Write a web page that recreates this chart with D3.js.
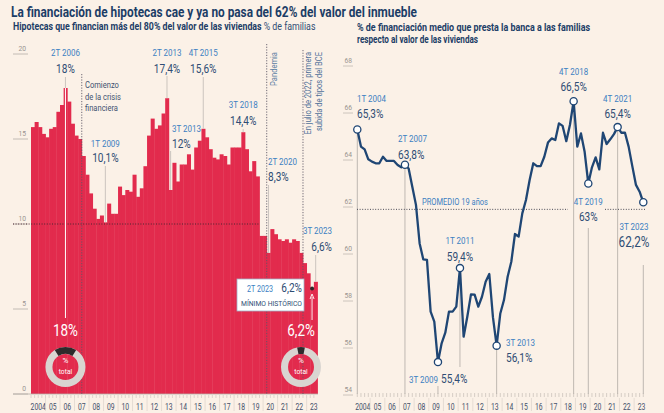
<!DOCTYPE html>
<html>
<head>
<meta charset="utf-8">
<script src="https://cdn.jsdelivr.net/npm/d3@7"></script>
<style>
  body { margin: 0; background: #fbf1e7; }
  svg { display: block; font-family: "Roboto", "Liberation Sans", sans-serif; }
</style>
</head>
<body>
<svg id="chart" width="664" height="413"></svg>
<script>
/* DATA */
var yearLabels = ['2004','05','06','07','08','09','10','11','12','13','14','15','16','17','18','19','20','21','22','23'];
var quarters = [];
yearLabels.forEach(function(y, i){
  for (var q = 1; q <= 4; q++) {
    if (i === 19 && q === 4) break;
    quarters.push(q + 'T ' + (2004 + i));
  }
});

// % de familias con hipoteca > 80% del valor
var familias = [
  15.7, 16.0, 15.7, 15.3,
  15.1, 15.6, 15.7, 16.6,
  17.0, 18.0, 17.2, 15.9,
  15.2, 15.0, 14.0, 12.9,
  11.8, 10.9, 10.3, 10.5,
  10.1, 11.2, 10.6, 10.6,
  12.2, 11.7, 12.0, 11.9,
  12.9, 11.6, 12.1, 13.4,
  15.2, 16.2, 15.6, 15.8,
  16.5, 17.4, 12.0, 13.6,
  12.5, 13.5, 13.5, 14.1,
  13.2, 14.5, 14.9, 15.6,
  15.1, 14.4, 13.9, 13.8,
  14.1, 14.0, 13.5, 14.5,
  14.5, 14.5, 15.4, 14.4,
  13.1, 13.7, 12.8, 9.3,
  9.3, 8.3, 9.7, 9.4,
  9.1, 9.0, 9.1, 8.9,
  9.1, 9.0, 8.3, 7.7,
  7.1, 6.2, 6.6
];

// % de financiacion medio
var financiacion = [
  65.3, 64.57, 64.45, 64.03,
  63.93, 63.86, 63.86, 64.14,
  63.96, 63.96, 63.96, 63.79,
  63.69, 63.8, 63.64, 62.86,
  62.09, 60.45, 59.77, 59.75,
  57.55, 57.12, 55.4, 56.2,
  56.65, 57.55, 57.55, 57.76,
  59.4, 56.48, 57.33, 58.28,
  58.27, 57.76, 58.18, 58.82,
  59.15, 57.3, 56.1, 57.47,
  58.04, 59.03, 59.67, 60.85,
  60.74, 61.73, 62.3, 63.15,
  63.86, 63.74, 63.74, 64.14,
  64.74, 64.92, 64.85, 65.56,
  65.45, 64.8, 65.5, 66.5,
  64.57, 65.13, 64.35, 63.0,
  63.69, 64.11, 63.6, 65.16,
  64.68, 64.88, 65.1, 65.4,
  65.16, 65.16, 64.57, 63.74,
  62.94, 62.65, 62.2
];
var promedio = 61.9;

var leftTicks = [0, 5, 10, 15, 20];
var rightTicks = [54, 56, 58, 60, 62, 64, 66, 68];
var rightMarked = ['1T 2004','2T 2007','3T 2009','1T 2011','3T 2013','4T 2018','4T 2019','4T 2021','3T 2023'];

/* COLOURS */
var navy = '#1c3d66', blue = '#3b80c2', red = '#e22b4d', valC = '#2f4d74', lineC = '#1f4674';

var svg = d3.select('#chart');

// condensed look: squeeze every text to ~84% of its natural width
function squeeze(t, k) {
  var w = t.node().getComputedTextLength();
  t.attr('textLength', w * (k || 0.84)).attr('lengthAdjust', 'spacingAndGlyphs');
}
function txt(x, y, s, size, fill, opts) {
  opts = opts || {};
  var t = svg.append('text').attr('x', x).attr('y', y)
    .attr('font-size', size).attr('fill', fill)
    .attr('text-anchor', opts.anchor || 'start')
    .attr('font-weight', opts.bold ? 700 : 400)
    .text(s);
  if (opts.len) t.attr('textLength', opts.len).attr('lengthAdjust', 'spacingAndGlyphs');
  else squeeze(t, opts.k);
  if (opts.rot) t.attr('transform', 'rotate(-90,' + x + ',' + y + ')');
  return t;
}
function seg(x1, y1, x2, y2, stroke, w, dash) {
  var l = svg.append('line').attr('x1', x1).attr('y1', y1).attr('x2', x2).attr('y2', y2)
    .attr('stroke', stroke).attr('stroke-width', w || 1);
  if (dash) l.attr('stroke-dasharray', dash);
  return l;
}

/* TITLES */
txt(11, 17, 'La financiación de hipotecas cae y ya no pasa del 62% del valor del inmueble', 15, navy, {bold: true, len: 406});
// subtitulo izquierdo: una sola linea comprimida con escala horizontal
var subG = svg.append('g');
var sub = subG.append('text').attr('x', 0).attr('y', 0).attr('font-size', 10.5);
sub.append('tspan').attr('font-weight', 700).attr('fill', navy)
  .text('Hipotecas que financian más del 80% del valor de las viviendas ');
sub.append('tspan').attr('fill', valC).text('% de familias');
var subW = sub.node().getComputedTextLength();
subG.attr('transform', 'translate(13,30) scale(' + (303 / subW) + ',1)');
txt(357, 31, '% de financiación medio que presta la banca a las familias', 10.5, navy, {bold: true, len: 233});
txt(357, 43, 'respecto al valor de las viviendas', 10.5, navy, {bold: true, len: 121});

/* LEFT CHART */
var xL = d3.scaleBand().domain(quarters).range([31, 317.5]);
var yL = d3.scaleLinear().domain([0, 20]).range([394, 54]);
var bw = xL.bandwidth();
var cL = function(q){ return xL(q) + bw / 2; };
var vL = function(q){ return familias[quarters.indexOf(q)]; };

leftTicks.forEach(function(t){
  seg(13, yL(t), 28, yL(t), '#b5aea8', 0.8);
  txt(26, yL(t) - 3, t, 8, '#9a9490', {anchor: 'end'});
});

svg.append('g').selectAll('rect').data(familias).enter().append('rect')
  .attr('x', function(d, i){ return xL(quarters[i]); })
  .attr('y', function(d){ return yL(d); })
  .attr('width', bw + 0.4)
  .attr('height', function(d){ return yL(0) - yL(d); })
  .attr('fill', red);

// linea 10%
seg(13, yL(10), xL('4T 2019'), yL(10), '#4a2530', 1, '1,1.6');

// eje x izquierdo
seg(13, yL(0), 318, yL(0), '#b5aea8', 0.8);
quarters.forEach(function(q){ seg(xL(q), 395, xL(q), 398, '#c9c1ba', 0.6); });
yearLabels.forEach(function(y, i){
  var q1 = '1T ' + (2004 + i);
  if (i > 0) seg(xL(q1), 398, xL(q1), 411, '#d6cec6', 0.6);
  txt(xL(q1) + 2 * bw, 410, y, 8.5, '#44506a', {anchor: 'middle', k: 0.8});
});

// lineas de eventos
seg(xL('3T 2007'), 74, xL('3T 2007'), 394, '#5d5866', 0.9, '1.2,1.5');
seg(xL('2T 2020'), 44, xL('2T 2020'), 394, '#5d5866', 0.9, '1.2,1.5');
seg(xL('4T 2022'), 50, xL('4T 2022'), 394, '#5d5866', 0.9, '1.2,1.5');
txt(85, 88, 'Comienzo', 9, '#3f5270');
txt(85, 100, 'de la crisis', 9, '#3f5270');
txt(85, 111, 'financiera', 9, '#3f5270');
txt(277, 52, 'Pandemia', 9, '#5d7fa3', {anchor: 'end', rot: true});
txt(311, 52, 'En julio de 2022, primera', 9, '#4f7099', {anchor: 'end', rot: true});
txt(322, 52, 'subida de tipos del BCE', 9, '#4f7099', {anchor: 'end', rot: true});

// anotaciones izquierda
var lead = '#cbc4be';
seg(cL('2T 2006'), 77, cL('2T 2006'), yL(vL('2T 2006')), lead, 1);
seg(cL('2T 2006'), yL(vL('2T 2006')), cL('2T 2006'), 318, '#ffffff', 1);
txt(cL('2T 2006'), 56, '2T 2006', 9.5, blue, {anchor: 'middle'});
txt(cL('2T 2006'), 73, '18%', 12, valC, {anchor: 'middle'});

seg(cL('1T 2009'), 166, cL('1T 2009'), yL(vL('1T 2009')), lead, 1);
txt(cL('1T 2009'), 147, '1T 2009', 9.5, blue, {anchor: 'middle'});
txt(cL('1T 2009'), 162, '10,1%', 12, valC, {anchor: 'middle'});

seg(cL('2T 2013'), 76, cL('2T 2013'), yL(vL('2T 2013')), lead, 1);
txt(cL('2T 2013'), 56, '2T 2013', 9.5, blue, {anchor: 'middle'});
txt(cL('2T 2013'), 73, '17,4%', 12, valC, {anchor: 'middle'});

seg(cL('3T 2013'), 151, cL('3T 2013'), yL(vL('3T 2013')), lead, 1);
txt(172, 132, '3T 2013', 9.5, blue);
txt(172, 148, '12%', 12, valC);

seg(cL('4T 2015'), 77, cL('4T 2015'), yL(vL('4T 2015')), lead, 1);
txt(cL('4T 2015'), 56, '4T 2015', 9.5, blue, {anchor: 'middle'});
txt(cL('4T 2015'), 73, '15,6%', 12, valC, {anchor: 'middle'});

seg(cL('3T 2018'), 129, cL('3T 2018'), yL(vL('3T 2018')), lead, 1);
txt(cL('3T 2018'), 108, '3T 2018', 9.5, blue, {anchor: 'middle'});
txt(cL('3T 2018'), 125, '14,4%', 12, valC, {anchor: 'middle'});

seg(cL('2T 2020'), 185, cL('2T 2020'), yL(vL('2T 2020')), lead, 1);
txt(268, 165, '2T 2020', 9.5, blue);
txt(268, 181, '8,3%', 12, valC);

seg(cL('3T 2023'), 255, cL('3T 2023'), yL(vL('3T 2023')), lead, 1);
txt(332, 234, '3T 2023', 9.5, blue, {anchor: 'end'});
txt(332, 251, '6,6%', 12, valC, {anchor: 'end'});

// caja minimo historico
svg.append('rect').attr('x', 237).attr('y', 279).attr('width', 67).attr('height', 32)
  .attr('fill', '#ffffff').attr('stroke', '#9fb2c8').attr('stroke-width', 0.8);
txt(247, 292, '2T 2023', 8.5, blue);
txt(302, 292, '6,2%', 12, valC, {anchor: 'end'});
txt(241, 306, 'MÍNIMO HISTÓRICO', 7.5, valC, {len: 61});
svg.append('circle').attr('cx', cL('2T 2023')).attr('cy', yL(vL('2T 2023')))
  .attr('r', 2).attr('fill', '#2a2a2a');
seg(cL('2T 2023'), 320, cL('2T 2023'), 297, '#ffffff', 0.9);
svg.append('path')
  .attr('d', 'M' + (cL('2T 2023') - 2) + ',299 L' + cL('2T 2023') + ',294 L' + (cL('2T 2023') + 2) + ',299')
  .attr('fill', 'none').attr('stroke', '#ffffff').attr('stroke-width', 0.9);

// donuts
var arcRing = d3.arc().innerRadius(13).outerRadius(20);
function donut(cx, share, label) {
  var g = svg.append('g').attr('transform', 'translate(' + cx + ',367)');
  g.append('path').attr('d', arcRing({startAngle: 0, endAngle: 2 * Math.PI})).attr('fill', '#d9d5d1');
  g.append('path').attr('d', arcRing({startAngle: -Math.PI * share, endAngle: Math.PI * share})).attr('fill', '#2e2a2b');
  g.append('text').attr('y', -4).attr('text-anchor', 'middle').attr('font-size', 8).attr('fill', '#fff').text('%');
  var tt = g.append('text').attr('y', 7).attr('text-anchor', 'middle').attr('font-size', 8).attr('fill', '#fff').text('total');
  squeeze(tt);
  txt(cx, 336, label, 16, '#ffffff', {anchor: 'middle'});
}
donut(cL('2T 2006'), vL('2T 2006') / 100, '18%');
donut(301, vL('2T 2023') / 100, '6,2%');

/* RIGHT CHART */
var xR = d3.scalePoint().domain(quarters).range([357.3, 643.3]);
var yR = d3.scaleLinear().domain([54, 68]).range([395, 66]);
var st = xR.step();
var vR = function(q){ return financiacion[quarters.indexOf(q)]; };

rightTicks.forEach(function(t){
  seg(343, yR(t), 353, yR(t), '#c2bab3', 0.8);
  txt(352, yR(t) - 3, t, 8, '#9a9490', {anchor: 'end'});
});

// eje x derecho
quarters.forEach(function(q){ seg(xR(q), 393, xR(q), 397, '#bdb5ae', 0.6); });
yearLabels.forEach(function(y, i){
  var q1 = '1T ' + (2004 + i);
  if (i > 0) seg(xR(q1) - st / 2, 398, xR(q1) - st / 2, 411, '#d6cec6', 0.6);
  txt(xR(q1) + 1.5 * st, 410, y, 8.5, '#44506a', {anchor: 'middle', k: 0.8});
});

// lineas guia
var leadR = '#bfb8b2';
seg(xR('1T 2004'), yR(vR('1T 2004')), xR('1T 2004'), 394, leadR, 1);
seg(xR('2T 2007'), yR(vR('2T 2007')), xR('2T 2007'), 394, leadR, 1);
seg(xR('3T 2009'), 386, xR('3T 2009'), 394, leadR, 1);
seg(xR('1T 2011'), yR(vR('1T 2011')), xR('1T 2011'), 367, leadR, 1);
seg(xR('3T 2013'), yR(vR('3T 2013')), xR('3T 2013'), 394, leadR, 1);
seg(xR('4T 2018'), yR(vR('4T 2018')), xR('4T 2018'), 394, leadR, 1);
seg(xR('4T 2019'), 228, xR('4T 2019'), 394, leadR, 1);
seg(xR('4T 2021'), yR(vR('4T 2021')), xR('4T 2021'), 394, leadR, 1);
seg(xR('3T 2023'), 265, xR('3T 2023'), 394, leadR, 1);

// promedio
seg(357, yR(promedio), 568, yR(promedio), '#4a4a55', 1, '1,1.6');
seg(605, yR(promedio), 645, yR(promedio), '#4a4a55', 1, '1,1.6');
txt(422, 205, 'PROMEDIO 19 años', 8.5, blue, {len: 66});

var line = d3.line()
  .x(function(d, i){ return xR(quarters[i]); })
  .y(function(d){ return yR(d); })
  .curve(d3.curveLinear);
svg.append('path').datum(financiacion).attr('d', line)
  .attr('fill', 'none').attr('stroke', lineC).attr('stroke-width', 2.3)
  .attr('stroke-linejoin', 'round').attr('stroke-linecap', 'round');

svg.append('g').selectAll('circle').data(rightMarked).enter().append('circle')
  .attr('cx', function(q){ return xR(q); })
  .attr('cy', function(q){ return yR(vR(q)); })
  .attr('r', 3.6).attr('fill', '#ffffff').attr('stroke', lineC).attr('stroke-width', 1.3);

// anotaciones derecha
txt(357, 102, '1T 2004', 9.5, blue);
txt(357, 118, '65,3%', 12, valC);
txt(398, 142, '2T 2007', 9.5, blue);
txt(398, 159, '63,8%', 12, valC);
txt(409, 383, '3T 2009', 9.5, blue);
txt(441, 383, '55,4%', 12, valC);
txt(xR('1T 2011'), 244, '1T 2011', 9.5, blue, {anchor: 'middle'});
txt(xR('1T 2011'), 261, '59,4%', 12, valC, {anchor: 'middle'});
txt(506, 346, '3T 2013', 9.5, blue);
txt(506, 362, '56,1%', 12, valC);
txt(xR('4T 2018'), 75, '4T 2018', 9.5, blue, {anchor: 'middle'});
txt(xR('4T 2018'), 91, '66,5%', 12, valC, {anchor: 'middle'});
txt(xR('4T 2019'), 205, '4T 2019', 9.5, blue, {anchor: 'middle'});
txt(xR('4T 2019'), 221, '63%', 12, valC, {anchor: 'middle'});
txt(xR('4T 2021'), 102, '4T 2021', 9.5, blue, {anchor: 'middle'});
txt(xR('4T 2021'), 118, '65,4%', 12, valC, {anchor: 'middle'});
txt(634, 230, '3T 2023', 9.5, blue, {anchor: 'middle'});
txt(634, 247, '62,2%', 14, valC, {anchor: 'middle'});
</script>
</body>
</html>
